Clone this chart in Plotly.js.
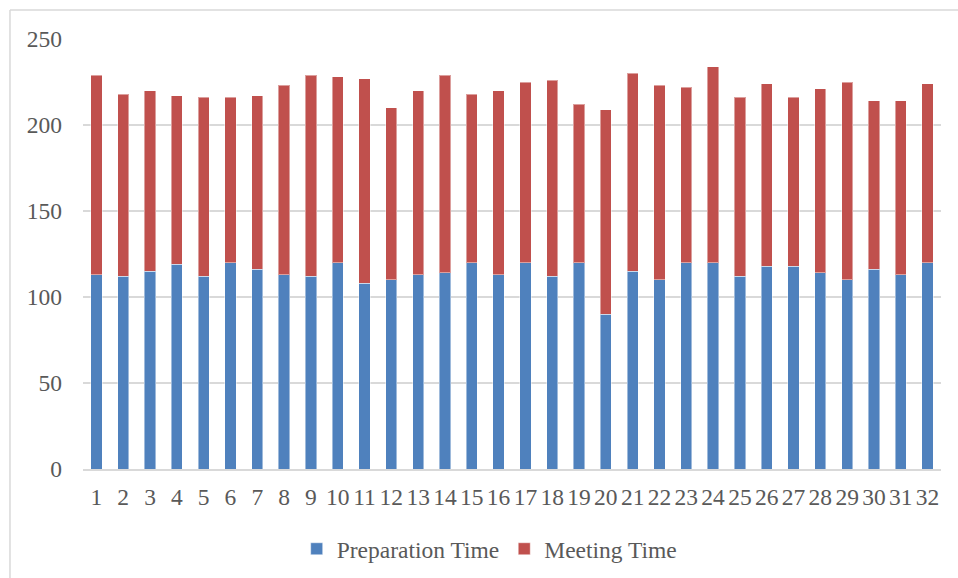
<!DOCTYPE html>
<html>
<head>
<meta charset="utf-8">
<script src="https://cdn.plot.ly/plotly-3.0.1.min.js"></script>
<style>html,body{margin:0;padding:0;background:#fff;}#chart{width:958px;height:578px;}</style>
</head>
<body>
<div id="chart"></div>
<script>
var categories = ['1','2','3','4','5','6','7','8','9','10','11','12','13','14','15','16','17','18','19','20','21','22','23','24','25','26','27','28','29','30','31','32'];
var preparationTime = [113,112,115,119,112,120,116,113,112,120,108,110,113,114,120,113,120,112,120,90,115,110,120,120,112,118,118,114,110,116,113,120];
var meetingTime = [116,106,105,98,104,96,101,110,117,108,119,100,107,115,98,107,105,114,92,119,115,113,102,114,104,106,98,107,115,98,101,104];
var yTicks = [0,50,100,150,200,250];

var font = {family: 'Liberation Serif', size: 23.5, color: '#595959'};

var traces = [
  {type: 'bar', name: 'Preparation Time', x: categories, y: preparationTime,
   marker: {color: '#4F81BD', line: {color: 'rgba(255,255,255,0.45)', width: 1}}},
  {type: 'bar', name: 'Meeting Time', x: categories, y: meetingTime,
   marker: {color: '#C0504D', line: {color: 'rgba(255,255,255,0.45)', width: 1}}}
];

var layout = {
  width: 958, height: 578,
  margin: {l: 83, r: 17, t: 39, b: 109, autoexpand: false},
  barmode: 'stack',
  bargap: 0.58,
  paper_bgcolor: '#fff', plot_bgcolor: '#fff',
  font: font,
  showlegend: true,
  legend: {orientation: 'h', x: 0.474, xanchor: 'center', y: -0.186, yanchor: 'middle',
           font: font, itemwidth: 20, tracegroupgap: 0, traceorder: 'normal'},
  xaxis: {type: 'category', tickmode: 'array', tickvals: categories, ticktext: categories,
          tickangle: 0, tickfont: font, showgrid: false, showline: true, automargin: false,
          linecolor: '#D9D9D9', linewidth: 2, ticks: '', ticklabelstandoff: 6, fixedrange: true},
  yaxis: {range: [0, 250], tickvals: yTicks, ticktext: yTicks.map(String), tickfont: font,
          showgrid: true, gridcolor: '#D9D9D9', gridwidth: 2, zeroline: false, automargin: false,
          showline: false, ticks: '', ticklabelstandoff: 20, fixedrange: true},
  shapes: [
    {type: 'line', xref: 'paper', yref: 'paper', x0: -0.0851, x1: -0.0851, y0: 1.0674, y1: -0.26,
     line: {color: '#D9D9D9', width: 1.5}},
    {type: 'line', xref: 'paper', yref: 'paper', x0: -0.0851, x1: 1.03, y0: 1.0674, y1: 1.0674,
     line: {color: '#D9D9D9', width: 1.5}}
  ]
};

Plotly.newPlot('chart', traces, layout, {displayModeBar: false, staticPlot: true});
</script>
</body>
</html>
